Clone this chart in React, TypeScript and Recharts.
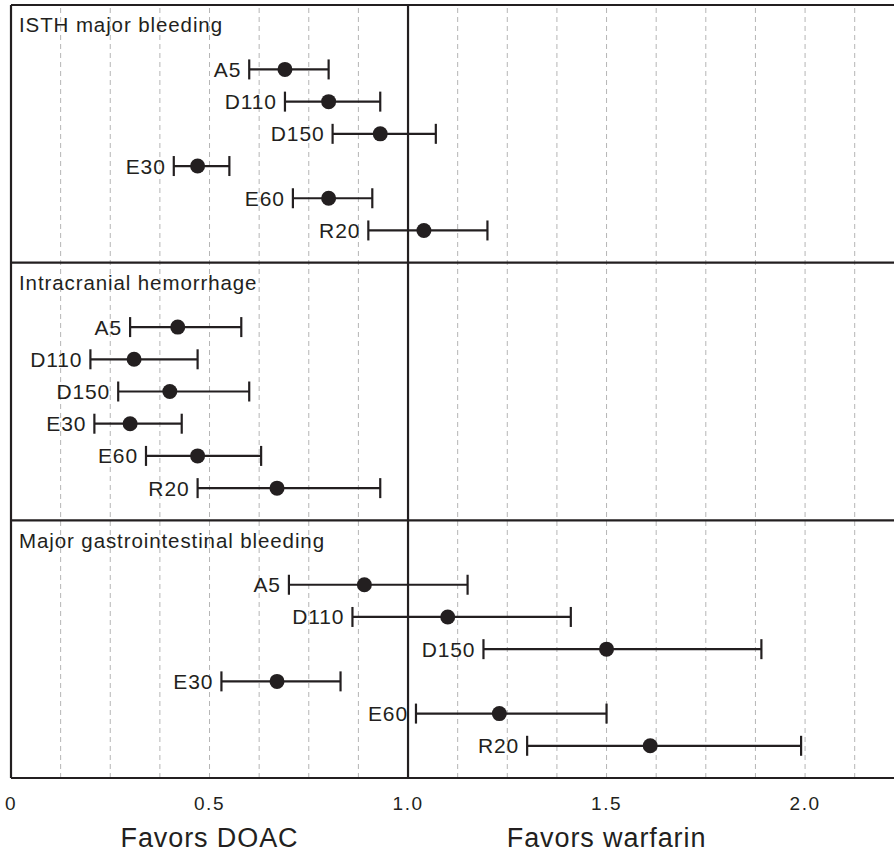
import React from "react";
import {
  ScatterChart,
  Scatter,
  XAxis,
  YAxis,
  ErrorBar,
  ReferenceLine,
} from "recharts";

const INK = "#231f20";
const FONT = "Liberation Sans, Arial, Helvetica, sans-serif";

const drugs = ["A5", "D110", "D150", "E30", "E60", "R20"];
const panelTitles = [
  "ISTH major bleeding",
  "Intracranial hemorrhage",
  "Major gastrointestinal bleeding",
];

// hazard ratio estimates and 95% CI, one array per outcome
const isthEst = [0.69, 0.8, 0.93, 0.47, 0.8, 1.04];
const isthLo = [0.6, 0.69, 0.81, 0.41, 0.71, 0.9];
const isthHi = [0.8, 0.93, 1.07, 0.55, 0.91, 1.2];

const ichEst = [0.42, 0.31, 0.4, 0.3, 0.47, 0.67];
const ichLo = [0.3, 0.2, 0.27, 0.21, 0.34, 0.47];
const ichHi = [0.58, 0.47, 0.6, 0.43, 0.63, 0.93];

const giEst = [0.89, 1.1, 1.5, 0.67, 1.23, 1.61];
const giLo = [0.7, 0.86, 1.19, 0.53, 1.02, 1.3];
const giHi = [1.15, 1.41, 1.89, 0.83, 1.5, 1.99];

const xTicks = [0, 0.5, 1, 1.5, 2];
const xTickLabels = ["0", "0.5", "1.0", "1.5", "2.0"];
const gridValues = [
  0.125, 0.25, 0.375, 0.5, 0.625, 0.75, 0.875, 1.125, 1.25, 1.375, 1.5,
  1.625, 1.75, 1.875, 2.0, 2.125,
];
const captions: Record<number, string> = {
  0.5: "Favors DOAC",
  1.5: "Favors warfarin",
};

const outcomes = [
  { est: isthEst, lo: isthLo, hi: isthHi },
  { est: ichEst, lo: ichLo, hi: ichHi },
  { est: giEst, lo: giLo, hi: giHi },
];

const ROWS_PER_PANEL = 8;

const points = outcomes.flatMap((o, p) =>
  drugs.map((name, r) => ({
    x: o.est[r],
    y: p * ROWS_PER_PANEL + 2 + r,
    err: [o.est[r] - o.lo[r], o.hi[r] - o.est[r]],
    name,
  }))
);

const labelPoints = outcomes.flatMap((o, p) =>
  drugs.map((name, r) => ({ x: o.lo[r], y: p * ROWS_PER_PANEL + 2 + r, name }))
);

const titlePoints = panelTitles.map((name, p) => ({
  x: 0,
  y: p * ROWS_PER_PANEL + 0.62,
  name,
}));

const Dot = (props: any) => (
  <circle cx={props.cx} cy={props.cy} r={7.5} fill={INK} />
);

const RowLabel = (props: any) => (
  <text
    x={props.cx - 8}
    y={props.cy + 7.5}
    textAnchor="end"
    fontSize={21}
    letterSpacing={0.9}
    fontFamily={FONT}
    fill={INK}
  >
    {props.payload.name}
  </text>
);

const PanelTitle = (props: any) => (
  <text
    x={props.cx + 8}
    y={props.cy + 7.5}
    textAnchor="start"
    fontSize={20.5}
    letterSpacing={0.9}
    fontFamily={FONT}
    fill={INK}
  >
    {props.payload.name}
  </text>
);

const AxisTick = (props: any) => {
  const { x, y, payload } = props;
  const i = xTicks.indexOf(payload.value);
  const caption = captions[payload.value];
  return (
    <g>
      <text
        x={x}
        y={y + 32}
        textAnchor="middle"
        fontSize={19}
        letterSpacing={1.5}
        fontFamily={FONT}
        fill={INK}
      >
        {i >= 0 ? xTickLabels[i] : payload.value}
      </text>
      {caption && (
        <text
          x={x}
          y={y + 69}
          textAnchor="middle"
          fontSize={27}
          letterSpacing={0.9}
          fontFamily={FONT}
          fill={INK}
        >
          {caption}
        </text>
      )}
    </g>
  );
};

export default function App() {
  return (
    <div style={{ position: "absolute", left: 0, top: 0, background: "#fff" }}>
      <ScatterChart
        width={894}
        height={854}
        margin={{ top: 5, right: 0, left: 11, bottom: 0 }}
      >
        <XAxis
          type="number"
          dataKey="x"
          domain={[0, 2.224]}
          allowDataOverflow
          ticks={xTicks}
          interval={0}
          tick={<AxisTick />}
          tickLine={false}
          axisLine={false}
          tickSize={0}
          tickMargin={0}
          height={76}
        />
        <YAxis
          type="number"
          dataKey="y"
          domain={[0, 24]}
          reversed
          hide
          allowDataOverflow
        />
        {gridValues.map((v) => (
          <ReferenceLine
            key={"g" + v}
            x={v}
            stroke="#b5b5b5"
            strokeWidth={1}
            strokeDasharray="5 4"
          />
        ))}
        {[0, 8, 16, 24].map((v) => (
          <ReferenceLine key={"h" + v} y={v} stroke={INK} strokeWidth={2.2} />
        ))}
        <ReferenceLine x={0} stroke={INK} strokeWidth={2.2} />
        <ReferenceLine x={1} stroke={INK} strokeWidth={2.2} />
        <Scatter
          data={titlePoints}
          shape={<PanelTitle />}
          isAnimationActive={false}
        />
        <Scatter
          data={labelPoints}
          shape={<RowLabel />}
          isAnimationActive={false}
        />
        <Scatter data={points} shape={<Dot />} isAnimationActive={false}>
          <ErrorBar
            dataKey="err"
            direction="x"
            width={10}
            stroke={INK}
            strokeWidth={2.2}
          />
        </Scatter>
      </ScatterChart>
    </div>
  );
}
